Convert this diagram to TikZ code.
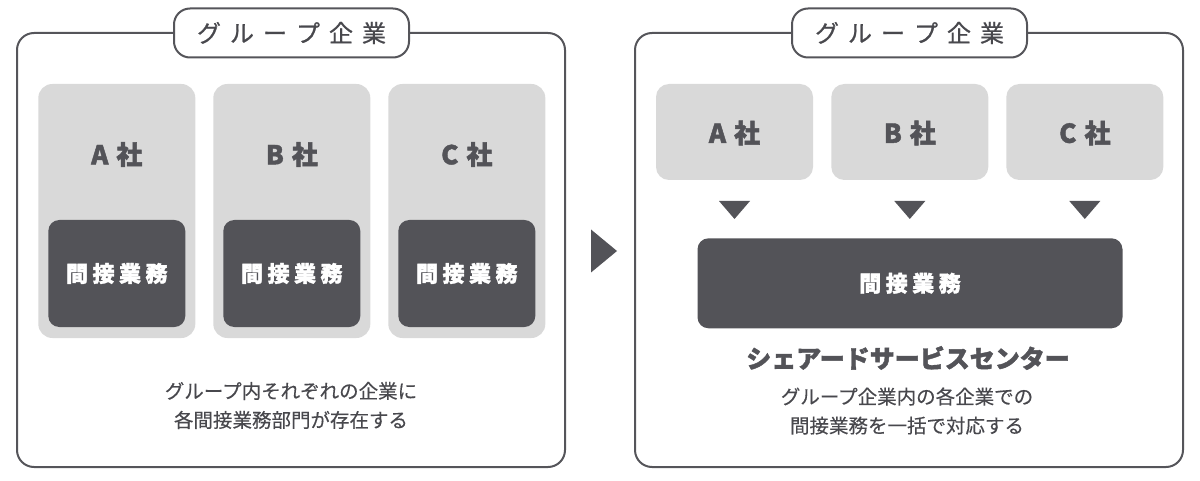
\documentclass[tikz,border=0pt]{standalone}
\usepackage{fontspec}
\newfontfamily\jp{Noto Sans CJK JP}
\newfontfamily\jpm[FakeBold=0.7]{Noto Sans CJK JP}
\newfontfamily\jpb[FakeBold=0.3]{Noto Sans CJK JP}
\newfontfamily\jph[BoldFeatures={FakeBold=1.6}]{Noto Sans CJK JP}
\definecolor{dark}{RGB}{83,83,88}
\definecolor{light}{RGB}{217,217,217}
\definecolor{line}{RGB}{85,85,90}
\definecolor{txt}{RGB}{72,72,77}
\tikzset{
  frame/.style={draw=line, line width=2pt, rounded corners=17pt},
  pill/.style={draw=line, line width=2pt, fill=white, rounded corners=16pt, minimum width=235pt, minimum height=49pt, inner sep=0pt, text=txt, font={\jpm\fontsize{24}{24}\selectfont}},
  graybox/.style={fill=light, inner sep=0pt},
  darkbox/.style={fill=dark, rounded corners=11pt, inner sep=0pt, text=white, font={\jph\bfseries\fontsize{22}{22}\selectfont}},
  comp/.style={text=dark, font={\jph\bfseries\fontsize{26}{26}\selectfont}, inner sep=0pt},
  tri/.style={fill=dark},
  body/.style={text=txt, align=center, font={\jpb\fontsize{19.5}{29}\selectfont}, inner sep=0pt},
  title/.style={text=dark, font={\jph\bfseries\fontsize{25}{25}\selectfont}, inner sep=0pt}
}
\newcommand{\gs}{\hspace{9pt}}
\newcommand{\ds}{\hspace{4.5pt}}
\begin{document}
\begin{tikzpicture}[x=1pt,y=-1pt]
\useasboundingbox (0,0) rectangle (1200,481);
% left frame
\draw[frame] (17,33) rectangle (565,467);
\node[pill] (lp) at (291.5,33) {グ\gs ル\gs ー\gs プ\gs 企\gs 業};
% left company boxes
\foreach \n/\x/\l in {a/38.3/A,b/213.3/B,c/388.3/C}{
  \node[graybox, minimum width=157pt, minimum height=254pt, rounded corners=14pt] (lg\n) at (\x+78.5,211) {};
  \node[darkbox, minimum width=137pt, minimum height=107pt] (ld\n) at (\x+78.5,273.5) {間\ds 接\ds 業\ds 務};
  \node[comp] (lc\n) at (\x+78.5,154.5) {\l\hspace{8pt}社};
}
\node[body] (lt) at (291,405.5) {グループ内それぞれの企業に\\各間接業務部門が存在する};
% arrow
\fill[tri] (591,229.5) -- (617,251) -- (591,272.5) -- cycle;
% right frame
\draw[frame] (635,33) rectangle (1183,467);
\node[pill] (rp) at (909.5,33) {グ\gs ル\gs ー\gs プ\gs 企\gs 業};
\foreach \n/\x/\l in {a/656/A,b/831.3/B,c/1006.3/C}{
  \node[graybox, minimum width=157pt, minimum height=96pt, rounded corners=13pt] (rg\n) at (\x+78.5,132) {};
  \node[comp] (rc\n) at (\x+78.5,133) {\l\hspace{8pt}社};
  \fill[tri] (\x+63,201) -- (\x+94,201) -- (\x+78.5,219) -- cycle;
}
\node[darkbox, minimum width=425pt, minimum height=90pt] (rd) at (910,283.3) {間\ds 接\ds 業\ds 務};
\node[title] (rt) at (908,358) {シェアードサービスセンター};
\node[body] (rb) at (907,411) {グループ企業内の各企業での\\間接業務を一括で対応する};
\end{tikzpicture}
\end{document}
